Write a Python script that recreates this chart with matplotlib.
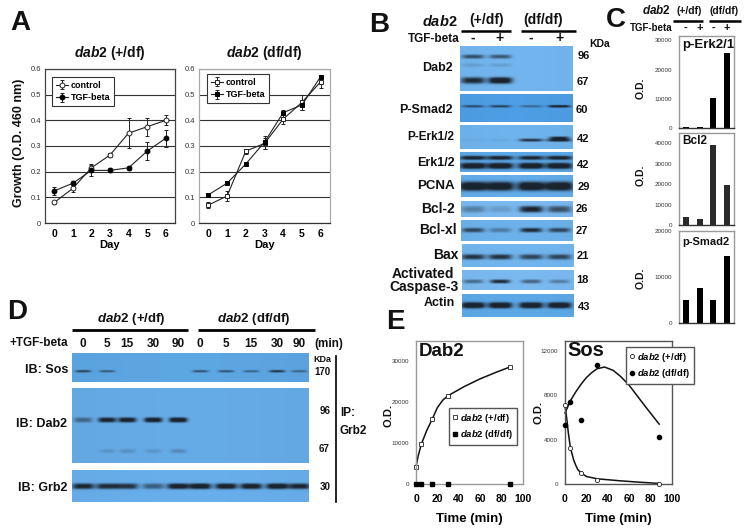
import numpy as np
import matplotlib
matplotlib.use("Agg")
from matplotlib import pyplot as plt
from matplotlib.colors import to_rgb
from matplotlib.lines import Line2D

W, H = 746, 528
plt.rcParams["font.family"] = ["Liberation Sans", "DejaVu Sans"]
plt.rcParams["mathtext.fontset"] = "custom"
plt.rcParams["mathtext.it"] = "Liberation Sans:italic:bold"
plt.rcParams["mathtext.rm"] = "Liberation Sans:bold"

# A: growth curves
days = [0, 1, 2, 3, 4, 5, 6]
het_control = [0.08, 0.135, 0.215, 0.265, 0.35, 0.375, 0.40]
het_control_err = [0.005, 0.015, 0.015, 0.008, 0.058, 0.035, 0.02]
het_tgf = [0.125, 0.155, 0.205, 0.205, 0.215, 0.28, 0.33]
het_tgf_err = [0.015, 0.008, 0.02, 0.008, 0.008, 0.035, 0.032]
hom_control = [0.07, 0.105, 0.28, 0.31, 0.405, 0.47, 0.55]
hom_control_err = [0.01, 0.02, 0.01, 0.02, 0.02, 0.03, 0.025]
hom_tgf = [0.11, 0.155, 0.23, 0.315, 0.43, 0.46, 0.57]
hom_tgf_err = [0.005, 0.005, 0.005, 0.025, 0.01, 0.02, 0.005]

# C: densitometry bars
erk_od = [300, 300, 10200, 25800]
bcl2_od = [3800, 2700, 39000, 19800]
smad_od = [5000, 7700, 5000, 14500]

# E: densitometry time courses
e_time = [0, 5, 15, 30, 88]
dab2_het = [4200, 9700, 15700, 21500, 28500]
dab2_hom = [0, 0, 0, 0, 0]
sos_het = [7150, 3250, 1000, 400, 0]
sos_hom = [5300, 7400, 5750, 10700, 4250]
dab2_curve_t = [0, 2, 5, 10, 15, 20, 25, 30, 45, 60, 75, 88]
dab2_curve = [4200, 6800, 9700, 13000, 15700, 18600, 20400, 21500, 23700, 25600, 27200, 28500]
sos_het_curve_t = [0, 1, 2, 3, 5, 8, 10, 12, 15, 20, 30, 50, 70, 88]
sos_het_curve = [7100, 6400, 5600, 4700, 3300, 2200, 1700, 1300, 1000, 680, 470, 300, 160, 50]
sos_hom_curve_t = [0, 5, 10, 15, 20, 25, 30, 37, 45, 52, 60, 75, 88]
sos_hom_curve = [6400, 7500, 8300, 9000, 9600, 10050, 10400, 10550, 10250, 9700, 8900, 7000, 5400]

# B: band strength per lane (-, +, -, +)
b_dab2_96 = [0.55, 0.5, 0, 0]
b_dab2_67 = [0.75, 0.95, 0, 0]
b_smad = [0.55, 0.6, 0.35, 0.95]
b_perk_a = [0.03, 0.05, 0.7, 0.85]
b_perk_b = [0, 0, 0, 0.75]
b_erk_a = [0.85, 0.85, 0.8, 0.85]
b_erk_b = [1, 1, 1, 1]
b_pcna = [1, 0.95, 1, 1]
b_bcl2 = [0.3, 0.15, 0.8, 0.55]
b_bclxl = [0.6, 0.3, 0.75, 0.6]
b_bax = [0.7, 0.7, 0.6, 0.6]
b_casp = [0.4, 0.75, 0.45, 0.3]
b_actin = [1, 1, 1, 1]

# D: band strength per lane (0 5 15 30 90, twice)
d_sos = [0.6, 0.45, 0, 0, 0, 0.5, 0.5, 0.4, 0.7, 0.4]
d_dab2_96 = [0.4, 0.85, 0.9, 0.95, 1, 0, 0, 0, 0, 0]
d_dab2_67 = [0, 0.12, 0.15, 0.12, 0.2, 0, 0, 0, 0, 0]
d_grb2 = [0.8, 0.75, 0.7, 0.45, 0.9, 0.95, 0.9, 0.9, 0.95, 0.8]
d_time_labels = ["0", "5", "15", "30", "90", "0", "5", "15", "30", "90"]

fig = plt.figure(figsize=(W / 100, H / 100), dpi=100, facecolor="white")


def box(x0, y0, x1, y1, **kw):
    return fig.add_axes([x0 / W, 1 - y1 / H, (x1 - x0) / W, (y1 - y0) / H], **kw)


# whole figure overlay in pixels, for text and header bars
page = fig.add_axes([0, 0, 1, 1], zorder=10)
page.set_xlim(0, W)
page.set_ylim(H, 0)
page.axis("off")
page.patch.set_alpha(0)


def label(x, y, s, size=9, ha="center", weight="bold", **kw):
    page.text(x, y, s, fontsize=size, ha=ha, va="center", fontweight=weight, color="#111111", **kw)


def bar(x0, x1, y, lw=1.8):
    page.add_line(Line2D([x0, x1], [y, y], color="black", lw=lw, solid_capstyle="butt"))


def blot(x0, y0, x1, y1, lanes, rows, bg="#6aaee6"):
    ax = box(x0, y0, x1, y1)
    h = y1 - y0
    w = x1 - x0
    yy, xx = np.mgrid[0:h * 2, 0:w * 2] / 2.0
    dark = np.zeros(xx.shape)
    for frac, hh, hw, vals in rows:
        for lx, v in zip(lanes, vals):
            if v <= 0:
                continue
            bx = (xx + x0 - lx) / hw
            by = (yy - frac * h) / hh
            dark += v * np.exp(-(bx ** 4) - np.abs(by) ** 3)
    dark = np.clip(1.3 * dark, 0, 1)[..., None]
    c0 = np.array(to_rgb(bg))
    c1 = np.array(to_rgb("#1a2430"))
    shade = 1 + 0.02 * np.sin(np.pi * xx / w)[..., None]
    img = np.clip(c0 * shade, 0, 1) * (1 - dark) + c1 * dark
    ax.imshow(img, aspect="auto", interpolation="bilinear")
    ax.axis("off")


def growth(x0, x1, control, c_err, tgf, t_err, marker, title, edge):
    ax = box(x0, 69, x1, 223)
    ax.set_xlim(-0.5, 6.5)
    ax.set_ylim(0, 0.6)
    ax.set_yticks([0, 0.1, 0.2, 0.3, 0.4, 0.5, 0.6])
    ax.set_yticklabels(["0", "0.1", "0.2", "0.3", "0.4", "0.5", "0.6"])
    ax.set_xticks(days)
    ax.grid(axis="y", color="#333333", lw=0.8)
    ax.set_axisbelow(True)
    ax.tick_params(axis="y", labelsize=5.5, length=0, pad=3, labelcolor="#333333")
    ax.tick_params(axis="x", labelsize=7.5, length=0, pad=4)
    for t in ax.get_xticklabels():
        t.set_fontweight("bold")
    for s in ax.spines.values():
        s.set_color(edge)
        s.set_linewidth(0.9)
    ax.spines["bottom"].set_color("#333333")
    ax.errorbar(days, control, yerr=c_err, color="#222222", lw=0.8, capsize=1.2, elinewidth=0.7,
                marker=marker, ms=3.5, mfc="white", mec="#222222", mew=0.7, label="control")
    ax.errorbar(days, tgf, yerr=t_err, color="#222222", lw=0.8, capsize=1.2, elinewidth=0.7,
                marker=marker, ms=3.5, mfc="black", mec="black", mew=0.7, label="TGF-beta")
    ax.set_xlabel("Day", fontsize=8, fontweight="bold", labelpad=1)
    label((x0 + x1) / 2, 53, title, size=10, weight="bold")
    return ax


def od_bars(y0, y1, values, ymax, ticks, color, name, name_y, name_size, od_y):
    ax = box(679, y0, 734, y1)
    ax.bar(range(4), values, width=0.45, color=color)
    ax.set_xlim(-0.55, 3.55)
    ax.set_ylim(0, ymax)
    ax.set_xticks([])
    ax.set_yticks(ticks)
    ax.tick_params(axis="y", labelsize=4.5, length=0, pad=5, labelcolor="#333333")
    for s in ax.spines.values():
        s.set_color("#999999")
        s.set_linewidth(1)
    ax.spines["bottom"].set_color("#333333")
    label(682, name_y, name, size=name_size, ha="left")
    label(641, od_y, "O.D.", size=7.5, rotation=90)


def time_axes(x0, x1, ticks, ymax, edge):
    ax = box(x0, 341, x1, 484)
    ax.set_xlim(0, 98)
    ax.set_ylim(0, ymax)
    ax.set_xticks([0, 20, 40, 60, 80, 100])
    ax.set_yticks(ticks)
    ax.tick_params(axis="y", labelsize=4.5, length=0, pad=5, labelcolor="#333333")
    ax.tick_params(axis="x", labelsize=7.5, length=0, pad=7)
    for t in ax.get_xticklabels():
        t.set_fontweight("bold")
        t.set_clip_on(False)
    for s in ax.spines.values():
        s.set_color(edge)
        s.set_linewidth(1)
    ax.set_xlabel("Time (min)", fontsize=9.5, fontweight="bold", labelpad=7)
    return ax


# ---- A
ax_l = growth(45, 175, het_control, het_control_err, het_tgf, het_tgf_err, "o", r"$\mathit{dab2}$ (+/df)", "#444444")
ax_r = growth(199, 330, hom_control, hom_control_err, hom_tgf, hom_tgf_err, "s", r"$\mathit{dab2}$ (df/df)", "#aaaaaa")
for ax, lx, ly in [(ax_l, 52, 77), (ax_r, 207, 74)]:
    leg = ax.legend(loc="upper left", bbox_to_anchor=(lx / W, 1 - ly / H), bbox_transform=fig.transFigure,
                    fontsize=6.5, fancybox=False, framealpha=1, edgecolor="#333333", borderaxespad=0,
                    handlelength=1.3, handletextpad=0.3, labelspacing=0.35, borderpad=0.45)
    leg.get_frame().set_linewidth(0.8)
    for t in leg.get_texts():
        t.set_fontweight("bold")
label(19, 143, "Growth (O.D. 460 nm)", size=9, rotation=90)
label(20, 23, "A", size=20)

# ---- B
lanes_b = [473, 500, 531, 559]
label(379, 25, "B", size=20)
label(458, 21, r"$\mathit{dab2}$", size=10.5, ha="right")
label(487, 20, "(+/df)", size=10)
label(543, 20, "(df/df)", size=10)
bar(461, 511, 31)
bar(521, 576, 31)
label(460, 39, "TGF-beta", size=8.5, ha="right")
for x, s in zip(lanes_b, ["-", "+", "-", "+"]):
    label(x, 38, s, size=10)
label(600, 44, "KDa", size=7.5)

blot(460, 46, 573, 91, lanes_b, [(0.23, 2.0, 11, b_dab2_96), (0.42, 1.8, 11, [0.12, 0.12, 0, 0]),
                                 (0.76, 3.2, 12, b_dab2_67)], "#70b2ea")
blot(460, 94, 573, 122, lanes_b, [(0.43, 1.2, 11, b_smad)], "#4c9be0")
blot(460, 125, 573, 149, lanes_b, [(0.62, 1.5, 12, b_perk_a), (0.52, 1.2, 10, b_perk_b)], "#6cb0e8")
blot(460, 152, 573, 172, lanes_b, [(0.28, 2.0, 13, b_erk_a), (0.68, 3.0, 13, b_erk_b)], "#5ba5e3")
blot(461, 175, 573, 197, lanes_b, [(0.5, 4.5, 14, b_pcna)], "#62a9e6")
blot(461, 201, 573, 217, lanes_b, [(0.5, 3.2, 12, b_bcl2)], "#78b6ec")
blot(461, 220, 573, 241, lanes_b, [(0.47, 2.2, 11, b_bclxl)], "#6aaee6")
blot(462, 244, 574, 267, lanes_b, [(0.55, 2.6, 12, b_bax)], "#70b2ea")
blot(462, 270, 574, 290, lanes_b, [(0.58, 1.8, 10, b_casp)], "#78b6ec")
blot(462, 294, 574, 317, lanes_b, [(0.48, 3.0, 12, b_actin)], "#5ba5e3")

for x, y, s, size in [(453, 68, "Dab2", 9), (453, 110, "P-Smad2", 9), (454, 137, "P-Erk1/2", 8.5),
                      (455, 163, "Erk1/2", 9), (455, 186, "PCNA", 9.5), (455, 209, "Bcl-2", 10),
                      (457, 230, "Bcl-xl", 10), (458, 255, "Bax", 10), (455, 303, "Actin", 9)]:
    label(x, y, s, size=size, ha="right")
label(423, 274, "Activated", size=10)
label(424, 287, "Caspase-3", size=10)
for x, y, s in [(584, 56, "96"), (583, 82, "67"), (582, 110, "60"), (583, 139, "42"), (583, 165, "42"),
                (584, 187, "29"), (582, 209, "26"), (582, 231, "27"), (583, 256, "21"), (582, 280, "18"),
                (584, 307, "43")]:
    label(x, y, s, size=8)

# ---- C
label(616, 20, "C", size=20)
label(671, 11, r"$\mathit{dab2}$", size=8.5, ha="right")
label(689, 11, "(+/df)", size=7.5)
label(724, 11, "(df/df)", size=7.5)
bar(673, 703, 21)
bar(709, 741, 21)
label(672, 28, "TGF-beta", size=7, ha="right")
for x, s in zip([686, 700, 713, 727], ["-", "+", "-", "+"]):
    label(x, 28, s, size=8)
od_bars(36, 128, erk_od, 31500, [0, 10000, 20000, 30000], "black", "p-Erk2/1", 45, 9.5, 88)
od_bars(133, 225, bcl2_od, 45000, [0, 10000, 20000, 30000, 40000], "#2a2a2a", "Bcl2", 141, 8.5, 175)
od_bars(231, 323, smad_od, 20000, [0, 10000, 20000], "black", "p-Smad2", 242, 8, 278)

# ---- D
lanes_d = [83, 107, 127, 153, 178, 200, 226, 251, 277, 299]
blot(72, 353, 309, 382, lanes_d, [(0.62, 1.2, 8, d_sos)], "#5ba3de")
blot(72, 388, 309, 463, lanes_d, [(0.43, 2.4, 9, d_dab2_96), (0.84, 2.0, 8, d_dab2_67)], "#64a8e2")
blot(72, 470, 309, 502, lanes_d, [(0.5, 2.8, 11, d_grb2)], "#66abe6")
for x, s in zip(lanes_d, d_time_labels):
    label(x, 344, s, size=8.5)
label(39, 343, "+TGF-beta", size=8.5)
label(329, 344, "(min)", size=8.5)
label(47, 370, "IB: Sos", size=9)
label(41, 424, "IB: Dab2", size=9)
label(43, 488, "IB: Grb2", size=9)
label(322, 359, "KDa", size=6.5)
label(322, 372, "170", size=7)
label(325, 411, "96", size=7)
label(324, 449, "67", size=7)
label(325, 487, "30", size=7)
page.add_line(Line2D([336, 336], [356, 502], color="black", lw=1.2))
label(340, 413, "IP:", size=8.5, ha="left")
label(340, 431, "Grb2", size=8.5, ha="left")
label(17, 312, "D", size=20)
label(131, 319, r"$\mathit{dab2}$ (+/df)", size=9.5)
label(254, 319, r"$\mathit{dab2}$ (df/df)", size=9.5)
bar(72, 188, 329.5, lw=2)
bar(198, 315, 329.5, lw=2)

# ---- E
ax_d = time_axes(416, 523, [0, 10000, 20000, 30000], 34800, "#999999")
ax_d.plot(dab2_curve_t, dab2_curve, color="#111111", lw=1.1, clip_on=False)
h1, = ax_d.plot(e_time, dab2_het, ls="", marker="s", ms=3.5, mfc="white", mec="#222222", mew=0.6, clip_on=False)
h2, = ax_d.plot(e_time, dab2_hom, ls="", marker="s", ms=3.5, mfc="black", mec="black", clip_on=False, zorder=5)
ax_s = time_axes(565, 672, [0, 4000, 8000, 12000], 12900, "#555555")
ax_s.plot(sos_het_curve_t, sos_het_curve, color="#111111", lw=1.1, clip_on=False)
ax_s.plot(sos_hom_curve_t, sos_hom_curve, color="#111111", lw=1.1, clip_on=False)
h3, = ax_s.plot(e_time, sos_het, ls="", marker="o", ms=3, mfc="white", mec="#222222", mew=0.6, clip_on=False, zorder=5)
h4, = ax_s.plot(e_time, sos_hom, ls="", marker="o", ms=3, mfc="black", mec="black", clip_on=False, zorder=5)
names = [r"$\mathit{dab2}$ (+/df)", r"$\mathit{dab2}$ (df/df)"]
for ax, hs, lx, ly in [(ax_d, [h1, h2], 449, 408), (ax_s, [h3, h4], 626, 347)]:
    leg = ax.legend(hs, names, loc="upper left", bbox_to_anchor=(lx / W, 1 - ly / H), bbox_transform=fig.transFigure,
                    fontsize=6.8, fancybox=False, framealpha=1, edgecolor="#555555", borderaxespad=0,
                    handlelength=0.5, handletextpad=0.3, labelspacing=0.35, borderpad=0.4)
    leg.set_zorder(20)
    for t in leg.get_texts():
        t.set_fontweight("bold")
label(395, 322, "E", size=20)
label(442, 352, "Dab2", size=13.5)
label(586, 350, "Sos", size=14.5)
label(388, 415, "O.D.", size=8, rotation=90)
label(539, 412, "O.D.", size=8, rotation=90)

fig.savefig("out.png", dpi=100, facecolor="white")
